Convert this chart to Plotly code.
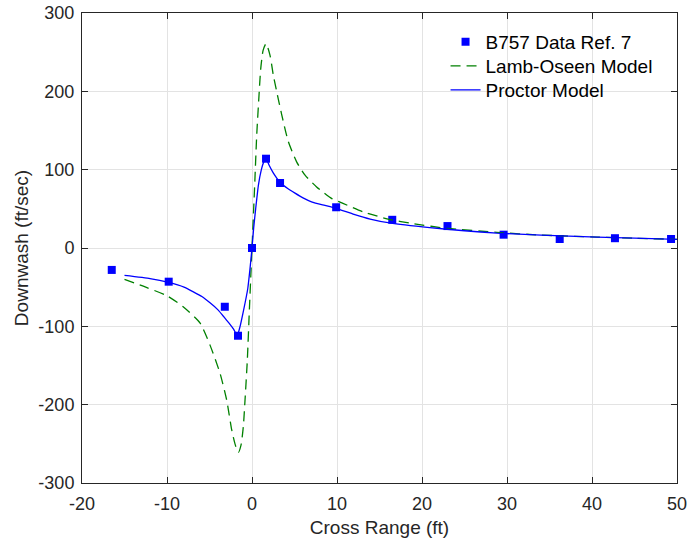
import plotly.graph_objects as go

# ---- data ----
data_x = [-16.5, -9.8, -3.2, -1.65, 0.0, 1.65, 3.3, 9.9, 16.5, 23.0, 29.6, 36.2, 42.7, 49.3]
data_y = [-28, -43, -75, -112, 0, 114, 83, 52, 36, 28, 17, 11.5, 12.5, 11.5]

lamb_x = [-15, -12.5, -10, -8.1, -6.1, -4.94, -3.76, -2.98, -2.39, -2.0, -1.61, -1.3, -1.02, -0.82,
          -0.55, -0.31, 0, 0.31, 0.55, 0.82, 1.02, 1.3, 1.65, 2.12, 2.5, 2.9, 3.5, 4.27, 5.25, 6.24,
          7.6, 9.4, 10.7, 13.1, 16, 19, 23, 28.8, 34, 40.6, 45, 50]
lamb_y = [-40, -50, -61, -75, -96, -124, -160, -194, -232, -250, -261, -252, -228, -194,
          -143, -79, 0, 79, 143, 194, 228, 252, 261, 246, 221, 200, 170, 136, 110, 93,
          78, 63, 57, 46, 37, 31, 25, 20, 16.5, 14, 12.5, 11]

proc_x = [-15, -12, -9.8, -8, -6.9, -5.9, -4.94, -4.0, -3.3, -2.7, -2.15, -1.73, -1.4, -1.0, -0.5,
          -0.25, 0, 0.2, 0.43, 0.75, 1.1, 1.35, 1.65, 2.0, 2.5, 3.3, 4.2, 5.06, 6.0, 7.0, 8.3, 9.8,
          12, 13.9, 16.2, 20.9, 25, 28.8, 34, 40.6, 45, 50]
proc_y = [-35, -39, -44, -50, -56, -62, -70, -79, -88, -96, -104, -112, -100, -80, -52,
          -28, 0, 26, 50, 80, 100, 109, 114, 106, 96, 84, 76, 70, 64, 59, 55, 51,
          43, 37, 32, 26, 22, 19, 16.5, 14, 12.5, 11]

x_ticks = [-20, -10, 0, 10, 20, 30, 40, 50]
x_tick_text = ["-20", "-10", "0", "10", "20", "30", "40", "50"]
y_ticks = [-300, -200, -100, 0, 100, 200, 300]
y_tick_text = ["-300", "-200", "-100", "0", "100", "200", "300"]

FONT = "Liberation Sans, Arial, Helvetica, sans-serif"
AXC = "#262626"
GRID = "#e3e3e3"

fig = go.Figure()
fig.add_trace(go.Scatter(x=data_x, y=data_y, mode="markers", name="B757 Data Ref. 7",
                         legend="legend",
                         marker=dict(symbol="square", size=8, color="#0000ff",
                                     line=dict(width=0))))
fig.add_trace(go.Scatter(x=lamb_x, y=lamb_y, mode="lines", name="Lamb-Oseen Model",
                         legend="legend2",
                         line=dict(color="#008000", width=1.3, dash="10px,6px",
                                   shape="spline", smoothing=0.6)))
fig.add_trace(go.Scatter(x=proc_x, y=proc_y, mode="lines", name="Proctor Model",
                         legend="legend3",
                         line=dict(color="#0000ff", width=1.3, shape="spline", smoothing=0.4)))

axis_common = dict(showgrid=True, gridcolor=GRID, gridwidth=1, zeroline=False,
                   showline=True, linecolor=AXC, linewidth=1, mirror="ticks",
                   ticks="inside", ticklen=6, tickcolor=AXC, automargin=False,
                   ticklabeloverflow="allow",
                   tickfont=dict(family=FONT, size=18, color=AXC))

leg_common = dict(xanchor="left", yanchor="middle", bgcolor="rgba(0,0,0,0)", borderwidth=0,
                  font=dict(family=FONT, size=19, color="#000000"))
leg_x = 0.611

fig.update_layout(
    width=687, height=542,
    margin=dict(l=82, r=10, t=13, b=59),
    paper_bgcolor="white", plot_bgcolor="white",
    font=dict(family=FONT, color=AXC),
    xaxis=dict(range=[-20, 50], tickvals=x_ticks, ticktext=x_tick_text,
               ticklabelstandoff=4,
               title=dict(text="Cross Range (ft)", font=dict(family=FONT, size=19, color=AXC),
                          standoff=8),
               **axis_common),
    yaxis=dict(range=[-300, 300], tickvals=y_ticks, ticktext=y_tick_text,
               ticklabelstandoff=3,
               title=dict(text="Downwash (ft/sec)", font=dict(family=FONT, size=19, color=AXC),
                          standoff=4),
               **axis_common),
    legend=dict(x=leg_x, y=0.9383, **leg_common),
    legend2=dict(x=leg_x, y=0.8872, **leg_common),
    legend3=dict(x=leg_x, y=0.8362, **leg_common),
    showlegend=True,
)

fig.write_html("out.html")
